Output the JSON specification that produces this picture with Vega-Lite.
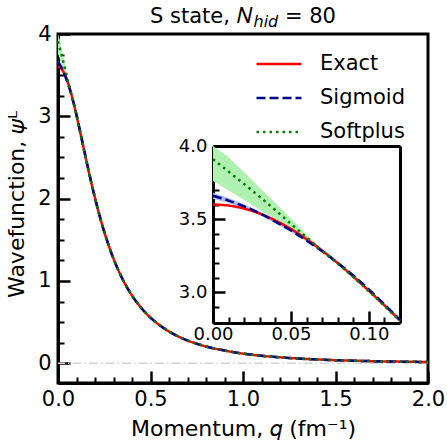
{
  "$schema": "https://vega.github.io/schema/vega-lite/v6.json",
  "width": 370,
  "height": 349,
  "autosize": "none",
  "padding": {"left": 58, "top": 34, "right": 19, "bottom": 57},
  "background": "white",
  "config": {
    "font": "DejaVu Sans",
    "view": {"stroke": "black", "strokeWidth": 3},
    "axis": {
      "grid": false,
      "labelFont": "DejaVu Sans",
      "labelFontSize": 21,
      "labelColor": "black",
      "labelFlush": false,
      "labelOverlap": false,
      "titleFont": "DejaVu Sans",
      "titleFontSize": 22,
      "titleFontWeight": "normal",
      "titleColor": "black",
      "domainColor": "black",
      "domainWidth": 3,
      "tickColor": "black",
      "tickWidth": 2.5
    },
    "legend": {
      "labelFont": "DejaVu Sans",
      "labelFontSize": 21,
      "labelColor": "black",
      "symbolType": "stroke",
      "symbolSize": 2025,
      "symbolStrokeWidth": 2.5,
      "labelOffset": 17,
      "rowPadding": -14.5,
      "padding": 0
    }
  },
  "title": {
    "text": "S state, \ud835\udc41\u00a0\u00a0\u00a0\u00a0 = 80",
    "subtitle": "\u200b\u00a0\u00a0\u00a0\u00a0\u00a0\u00a0\u00a0\u00a0\u00a0hid",
    "font": "DejaVu Sans",
    "fontSize": 21,
    "fontWeight": "normal",
    "color": "black",
    "subtitleFont": "DejaVu Sans",
    "subtitleFontSize": 16,
    "subtitleFontStyle": "italic",
    "subtitleColor": "black",
    "subtitlePadding": -13,
    "anchor": "middle",
    "offset": -7
  },
  "datasets": {
    "curves": [
      {"q": 0, "Exact": 3.600, "Sigmoid": 3.660, "Softplus": 3.910},
      {"q": 0.01, "Exact": 3.593, "Sigmoid": 3.627, "Softplus": 3.825},
      {"q": 0.02, "Exact": 3.572, "Sigmoid": 3.587, "Softplus": 3.740},
      {"q": 0.03, "Exact": 3.538, "Sigmoid": 3.540, "Softplus": 3.652},
      {"q": 0.04, "Exact": 3.491, "Sigmoid": 3.482, "Softplus": 3.562},
      {"q": 0.05, "Exact": 3.433, "Sigmoid": 3.422, "Softplus": 3.468},
      {"q": 0.06, "Exact": 3.364, "Sigmoid": 3.354, "Softplus": 3.376},
      {"q": 0.07, "Exact": 3.286, "Sigmoid": 3.281, "Softplus": 3.284},
      {"q": 0.08, "Exact": 3.200, "Sigmoid": 3.201, "Softplus": 3.197},
      {"q": 0.09, "Exact": 3.108, "Sigmoid": 3.115, "Softplus": 3.104},
      {"q": 0.10, "Exact": 3.011, "Sigmoid": 3.020, "Softplus": 3.007},
      {"q": 0.11, "Exact": 2.911, "Sigmoid": 2.917, "Softplus": 2.906},
      {"q": 0.12, "Exact": 2.808, "Sigmoid": 2.811, "Softplus": 2.803},
      {"q": 0.14, "Exact": 2.599, "Sigmoid": 2.601, "Softplus": 2.596},
      {"q": 0.16, "Exact": 2.393, "Sigmoid": 2.394, "Softplus": 2.391},
      {"q": 0.18, "Exact": 2.194, "Sigmoid": 2.195, "Softplus": 2.193},
      {"q": 0.2, "Exact": 2.007, "Sigmoid": 2.007, "Softplus": 2.006},
      {"q": 0.225, "Exact": 1.791, "Sigmoid": 1.791, "Softplus": 1.790},
      {"q": 0.25, "Exact": 1.596, "Sigmoid": 1.596, "Softplus": 1.596},
      {"q": 0.275, "Exact": 1.424, "Sigmoid": 1.424, "Softplus": 1.424},
      {"q": 0.3, "Exact": 1.271, "Sigmoid": 1.271, "Softplus": 1.271},
      {"q": 0.35, "Exact": 1.018, "Sigmoid": 1.018, "Softplus": 1.018},
      {"q": 0.4, "Exact": 0.823, "Sigmoid": 0.823, "Softplus": 0.823},
      {"q": 0.45, "Exact": 0.672, "Sigmoid": 0.672, "Softplus": 0.672},
      {"q": 0.5, "Exact": 0.554, "Sigmoid": 0.554, "Softplus": 0.554},
      {"q": 0.55, "Exact": 0.461, "Sigmoid": 0.461, "Softplus": 0.461},
      {"q": 0.6, "Exact": 0.386, "Sigmoid": 0.386, "Softplus": 0.386},
      {"q": 0.65, "Exact": 0.326, "Sigmoid": 0.326, "Softplus": 0.326},
      {"q": 0.7, "Exact": 0.277, "Sigmoid": 0.277, "Softplus": 0.277},
      {"q": 0.75, "Exact": 0.237, "Sigmoid": 0.237, "Softplus": 0.237},
      {"q": 0.8, "Exact": 0.204, "Sigmoid": 0.204, "Softplus": 0.204},
      {"q": 0.85, "Exact": 0.177, "Sigmoid": 0.177, "Softplus": 0.177},
      {"q": 0.9, "Exact": 0.154, "Sigmoid": 0.154, "Softplus": 0.154},
      {"q": 1.0, "Exact": 0.117, "Sigmoid": 0.117, "Softplus": 0.117},
      {"q": 1.1, "Exact": 0.091, "Sigmoid": 0.091, "Softplus": 0.091},
      {"q": 1.2, "Exact": 0.072, "Sigmoid": 0.072, "Softplus": 0.072},
      {"q": 1.3, "Exact": 0.057, "Sigmoid": 0.057, "Softplus": 0.057},
      {"q": 1.4, "Exact": 0.046, "Sigmoid": 0.046, "Softplus": 0.046},
      {"q": 1.5, "Exact": 0.037, "Sigmoid": 0.037, "Softplus": 0.037},
      {"q": 1.6, "Exact": 0.031, "Sigmoid": 0.031, "Softplus": 0.031},
      {"q": 1.7, "Exact": 0.025, "Sigmoid": 0.025, "Softplus": 0.025},
      {"q": 1.8, "Exact": 0.021, "Sigmoid": 0.021, "Softplus": 0.021},
      {"q": 1.9, "Exact": 0.018, "Sigmoid": 0.018, "Softplus": 0.018},
      {"q": 2.0, "Exact": 0.015, "Sigmoid": 0.015, "Softplus": 0.015}
    ],
    "bands": [
      {"q": 0, "series": "Sigmoid", "lo": 3.640, "hi": 3.680},
      {"q": 0.01, "series": "Sigmoid", "lo": 3.610, "hi": 3.645},
      {"q": 0.02, "series": "Sigmoid", "lo": 3.573, "hi": 3.601},
      {"q": 0.03, "series": "Sigmoid", "lo": 3.528, "hi": 3.552},
      {"q": 0.04, "series": "Sigmoid", "lo": 3.472, "hi": 3.492},
      {"q": 0.05, "series": "Sigmoid", "lo": 3.414, "hi": 3.430},
      {"q": 0.06, "series": "Sigmoid", "lo": 3.347, "hi": 3.361},
      {"q": 0.07, "series": "Sigmoid", "lo": 3.275, "hi": 3.287},
      {"q": 0.08, "series": "Sigmoid", "lo": 3.196, "hi": 3.206},
      {"q": 0.09, "series": "Sigmoid", "lo": 3.111, "hi": 3.119},
      {"q": 0.10, "series": "Sigmoid", "lo": 3.016, "hi": 3.024},
      {"q": 0.11, "series": "Sigmoid", "lo": 2.913, "hi": 2.921},
      {"q": 0.12, "series": "Sigmoid", "lo": 2.807, "hi": 2.815},
      {"q": 0, "series": "Softplus", "lo": 3.760, "hi": 4.030},
      {"q": 0.01, "series": "Softplus", "lo": 3.695, "hi": 3.925},
      {"q": 0.02, "series": "Softplus", "lo": 3.630, "hi": 3.820},
      {"q": 0.03, "series": "Softplus", "lo": 3.565, "hi": 3.715},
      {"q": 0.04, "series": "Softplus", "lo": 3.498, "hi": 3.610},
      {"q": 0.05, "series": "Softplus", "lo": 3.432, "hi": 3.505},
      {"q": 0.06, "series": "Softplus", "lo": 3.360, "hi": 3.395},
      {"q": 0.07, "series": "Softplus", "lo": 3.274, "hi": 3.294},
      {"q": 0.08, "series": "Softplus", "lo": 3.188, "hi": 3.206},
      {"q": 0.09, "series": "Softplus", "lo": 3.096, "hi": 3.112},
      {"q": 0.10, "series": "Softplus", "lo": 2.999, "hi": 3.015},
      {"q": 0.11, "series": "Softplus", "lo": 2.898, "hi": 2.914},
      {"q": 0.12, "series": "Softplus", "lo": 2.795, "hi": 2.811}
    ],
    "zero": [{"level": 0}]
  },
  "resolve": {
    "scale": {"x": "independent", "y": "independent"},
    "axis": {"x": "independent", "y": "independent"}
  },
  "layer": [
    {
      "resolve": {"axis": {"x": "independent", "y": "independent"}},
      "layer": [
        {
          "data": {"name": "zero"},
          "mark": {"type": "rule", "color": "#d3d3d3", "strokeWidth": 1.5, "strokeDash": [9, 3, 1.5, 3]},
          "encoding": {
            "y": {"field": "level", "type": "quantitative", "scale": {"domain": [-0.24, 4], "clamp": true}, "axis": null}
          }
        },
        {
          "data": {"name": "bands"},
          "mark": {"type": "area", "opacity": 1},
          "encoding": {
            "x": {"field": "q", "type": "quantitative", "scale": {"domain": [0, 2]},
              "axis": {"orient": "bottom", "values": [0.1, 0.2, 0.3, 0.4, 0.6, 0.7, 0.8, 0.9, 1.1, 1.2, 1.3, 1.4, 1.6, 1.7, 1.8, 1.9], "tickSize": -6, "tickWidth": 2, "labels": false, "domain": false, "title": null}},
            "y": {"field": "lo", "type": "quantitative", "scale": {"domain": [-0.24, 4], "clamp": true},
              "axis": {"orient": "left", "values": [0.25, 0.5, 0.75, 1.25, 1.5, 1.75, 2.25, 2.5, 2.75, 3.25, 3.5, 3.75], "tickSize": -6, "tickWidth": 2, "labels": false, "domain": false, "title": null}},
            "y2": {"field": "hi"},
            "fill": {"field": "series", "type": "nominal", "scale": {"domain": ["Sigmoid", "Softplus"], "range": ["#a8bcf0", "#b0f0b0"]}, "legend": null}
          }
        },
        {
          "data": {"name": "curves"},
          "transform": [{"fold": ["Exact", "Sigmoid", "Softplus"], "as": ["series", "psi"]}],
          "mark": {"type": "line", "strokeWidth": 2.5, "interpolate": "monotone"},
          "encoding": {
            "x": {"field": "q", "type": "quantitative", "scale": {"domain": [0, 2]},
              "axis": {"orient": "bottom", "values": [0, 0.5, 1, 1.5, 2], "format": ".1f", "tickSize": -12, "labelPadding": 17.5, "title": "Momentum, \ud835\udc5e (fm\u207b\u00b9)", "titleBaseline": "alphabetic", "titleY": 52, "titleX": 185}},
            "y": {"field": "psi", "type": "quantitative", "scale": {"domain": [-0.24, 4], "clamp": true},
              "axis": {"orient": "left", "values": [0, 1, 2, 3, 4], "format": "d", "tickSize": -12, "labelPadding": 19, "title": "Wavefunction, \ud835\udf13\u1d38", "titleBaseline": "alphabetic", "titleAngle": -90, "titleX": -35, "titleY": 170}},
            "color": {"field": "series", "type": "nominal", "scale": {"domain": ["Exact", "Sigmoid", "Softplus"], "range": ["#ff0000", "#00008b", "#008000"]},
              "legend": {"title": null, "orient": "none", "legendX": 197, "legendY": 6}},
            "strokeDash": {"field": "series", "type": "nominal", "scale": {"domain": ["Exact", "Sigmoid", "Softplus"], "range": [[1, 0], [9, 4], [2.5, 4]]},
              "legend": {"title": null, "orient": "none", "legendX": 197, "legendY": 6}}
          }
        }
      ]
    },
    {
      "resolve": {"axis": {"x": "independent", "y": "independent"}},
      "layer": [
        {
          "data": {"name": "bands"},
          "mark": {"type": "area", "opacity": 1},
          "encoding": {
            "x": {"field": "q", "type": "quantitative", "scale": {"domain": [0, 0.12], "range": [155, 342]},
              "axis": {"orient": "bottom", "offset": -60, "values": [0.01, 0.02, 0.03, 0.04, 0.06, 0.07, 0.08, 0.09, 0.11], "tickSize": -6, "tickWidth": 2, "labels": false, "domain": false, "title": null}},
            "y": {"field": "lo", "type": "quantitative", "scale": {"domain": [2.79, 4.0], "range": [289, 112], "clamp": true},
              "axis": {"orient": "left", "offset": -155, "values": [2.9, 3.1, 3.2, 3.3, 3.4, 3.6, 3.7, 3.8, 3.9], "tickSize": -6, "tickWidth": 2, "labels": false, "domain": false, "title": null}},
            "y2": {"field": "hi"},
            "fill": {"field": "series", "type": "nominal", "scale": {"domain": ["Sigmoid", "Softplus"], "range": ["#a8bcf0", "#b0f0b0"]}, "legend": null}
          }
        },
        {
          "data": {"name": "curves"},
          "transform": [{"filter": "datum.q <= 0.12"}, {"fold": ["Exact", "Sigmoid", "Softplus"], "as": ["series", "psi"]}],
          "mark": {"type": "line", "strokeWidth": 2.5, "interpolate": "monotone"},
          "encoding": {
            "x": {"field": "q", "type": "quantitative", "scale": {"domain": [0, 0.12], "range": [155, 342]},
              "axis": {"orient": "bottom", "offset": -60, "values": [0, 0.05, 0.1], "format": ".2f", "tickSize": -12, "labelPadding": 14.5, "labelFontSize": 18, "title": null}},
            "y": {"field": "psi", "type": "quantitative", "scale": {"domain": [2.79, 4.0], "range": [289, 112], "clamp": true},
              "axis": {"orient": "left", "offset": -155, "values": [3, 3.5, 4], "format": ".1f", "tickSize": -12, "labelPadding": 18, "labelFontSize": 18, "title": null}},
            "color": {"field": "series", "type": "nominal", "scale": {"domain": ["Exact", "Sigmoid", "Softplus"], "range": ["#ff0000", "#00008b", "#008000"]},
              "legend": {"title": null, "orient": "none", "legendX": 197, "legendY": 6}},
            "strokeDash": {"field": "series", "type": "nominal", "scale": {"domain": ["Exact", "Sigmoid", "Softplus"], "range": [[1, 0], [9, 4], [2.5, 4]]},
              "legend": {"title": null, "orient": "none", "legendX": 197, "legendY": 6}}
          }
        },
        {
          "data": {"name": "bands"},
          "mark": {"type": "point", "opacity": 0},
          "encoding": {
            "x": {"field": "q", "type": "quantitative", "scale": {"domain": [0, 0.12], "range": [155, 342]},
              "axis": {"orient": "top", "offset": -112, "ticks": false, "labels": false, "domain": true, "title": null}},
            "y": {"field": "lo", "type": "quantitative", "scale": {"domain": [2.79, 4.0], "range": [289, 112], "clamp": true},
              "axis": {"orient": "right", "offset": -28, "ticks": false, "labels": false, "domain": true, "title": null}}
          }
        }
      ]
    }
  ]
}
